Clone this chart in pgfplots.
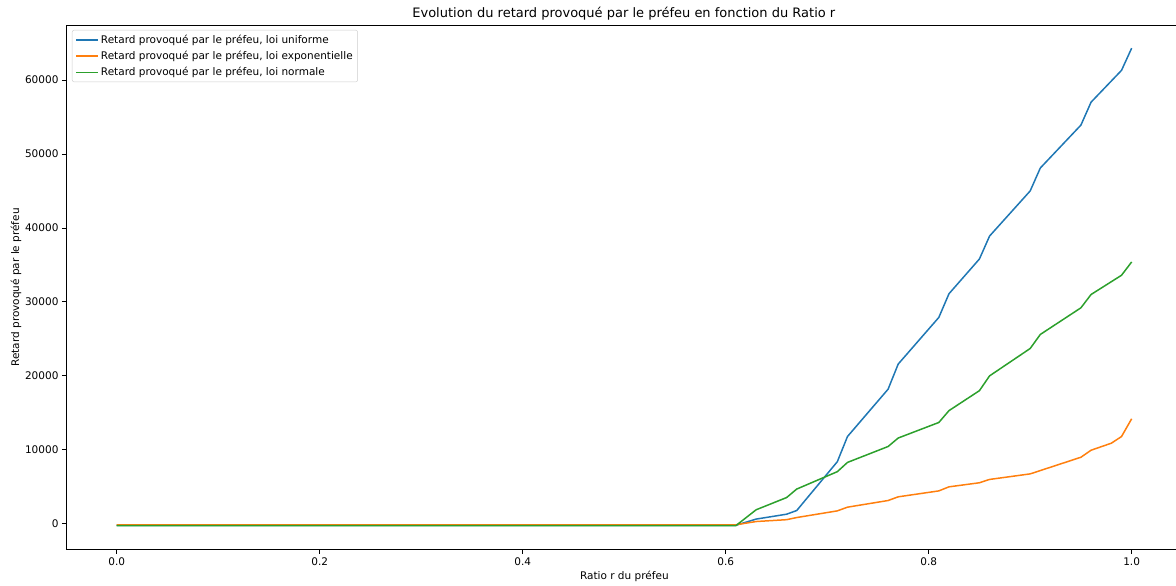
\documentclass[border=0pt]{standalone}
\usepackage{fontspec}
\setmainfont{DejaVu Sans}
\usepackage{pgfplots}
\pgfplotsset{compat=1.18}
\definecolor{cblue}{HTML}{1F77B4}
\definecolor{corange}{HTML}{FF7F0E}
\definecolor{cgreen}{HTML}{2CA02C}
\begin{document}
\begin{tikzpicture}
\path (-66pt,-33pt) rectangle (1110pt,550pt);
\begin{axis}[
  at={(0pt,0pt)}, anchor=south west,
  scale only axis, width=1110pt, height=525pt,
  xmin=-0.05, xmax=1.0433, ymin=-3514, ymax=67432,
  scaled y ticks=false, scaled x ticks=false,
  axis line style={draw=none},
  tick align=outside, major tick length=4pt,
  tick style={black, line width=0.8pt},
  xtick pos=lower, ytick pos=left,
  xtick={0,0.2,0.4,0.6,0.8,1.0},
  xticklabels={0.0,0.2,0.4,0.6,0.8,1.0},
  ytick={0,10000,20000,30000,40000,50000,60000},
  yticklabels={0,10000,20000,30000,40000,50000,60000},
  ticklabel style={font=\fontsize{10.5}{12}\selectfont},
  title={Evolution du retard provoqué par le préfeu en fonction du Ratio r},
  title style={at={(axis description cs:0.5027,1)}, anchor=base, yshift=1pt, font=\fontsize{13}{15}\selectfont},
  xlabel={Ratio r du préfeu},
  xlabel style={at={(axis description cs:0.5032,0)}, anchor=base, yshift=-30pt, font=\fontsize{10.5}{12}\selectfont},
  ylabel={Retard provoqué par le préfeu},
  ylabel style={at={(axis description cs:-0.0450,0.5)}, anchor=center, font=\fontsize{10.5}{12}\selectfont},
  legend style={at={(axis description cs:0.0054,0.9905)}, anchor=north west,
    draw=black!20, rounded corners=2pt, fill=white, font=\fontsize{10.5}{12}\selectfont,
    inner xsep=3pt, inner ysep=2.5pt, row sep=2.5pt},
  legend cell align=left,
  legend image code/.code={\draw[#1, line width=1.8pt] (0pt,0pt) -- (22pt,0pt);},
  after end axis/.code={
    \draw[black, line width=0.8pt] (rel axis cs:1,1) -- (rel axis cs:0,1) -- (rel axis cs:0,0) -- (rel axis cs:1,0);
  },
]
\addplot[cblue, line width=1.5pt] coordinates {
(0,-200) (0.61,-200) (0.63,640) (0.66,1300) (0.67,1800) (0.71,8400) (0.72,11800)
(0.76,18200) (0.77,21600) (0.81,27900) (0.82,31100) (0.85,35800) (0.86,38900)
(0.90,45000) (0.91,48100) (0.95,53900) (0.96,57000) (0.99,61300) (1.0,64300)};
\addlegendentry{Retard provoqué par le préfeu, loi uniforme}
\addplot[corange, line width=1.5pt] coordinates {
(0,-130) (0.61,-130) (0.63,310) (0.66,560) (0.67,850) (0.71,1750) (0.72,2250)
(0.76,3150) (0.77,3650) (0.81,4450) (0.82,5000) (0.85,5550) (0.86,6000)
(0.90,6750) (0.91,7200) (0.95,9000) (0.96,9950) (0.98,10900) (0.99,11800) (1.0,14200)};
\addlegendentry{Retard provoqué par le préfeu, loi exponentielle}
\addplot[cgreen, line width=1.5pt] coordinates {
(0,-250) (0.61,-250) (0.63,1900) (0.66,3550) (0.67,4700) (0.71,7050) (0.72,8300)
(0.76,10450) (0.77,11600) (0.81,13700) (0.82,15300) (0.85,18000) (0.86,20000)
(0.90,23700) (0.91,25600) (0.95,29200) (0.96,31000) (0.99,33600) (1.0,35400)};
\addlegendentry{Retard provoqué par le préfeu, loi normale}
\end{axis}
\end{tikzpicture}
\end{document}
